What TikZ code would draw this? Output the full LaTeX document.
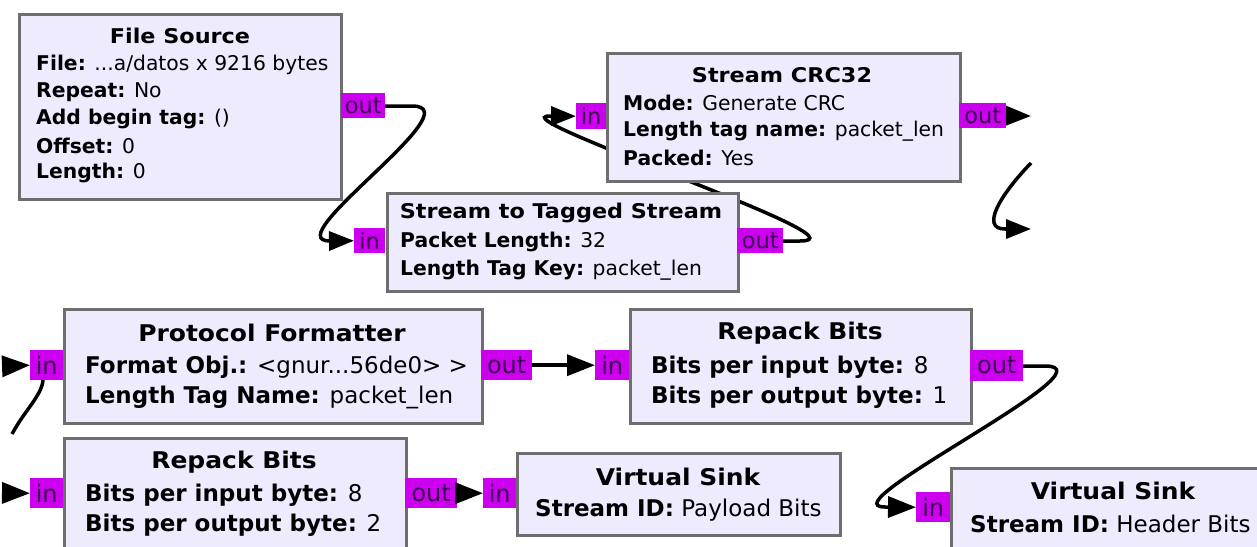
\documentclass[tikz,border=0pt]{standalone}
\usepackage{fontspec}
\setmainfont{DejaVu Sans}
\usetikzlibrary{arrows.meta}
\definecolor{blockfill}{HTML}{EEEBFF}
\definecolor{blockline}{HTML}{6E6E6E}
\definecolor{portfill}{HTML}{CC00EE}
\definecolor{porttext}{HTML}{3A0050}
\newcommand\kv[2]{\textbf{#1} #2}
\newcommand\wtop[1]{\scalebox{1.1}[1]{#1}}
\newcommand\wbot[1]{\scalebox{1.085}[1]{#1}}
\tikzset{
  blockbox/.style={draw=blockline, fill=blockfill, line width=3pt, anchor=north west, inner sep=0pt},
  porttop/.style={fill=portfill, inner sep=0pt, anchor=north west, text=porttext, font=\fontsize{22.5}{22.5}\selectfont},
  portbot/.style={fill=portfill, inner sep=0pt, anchor=north west, text=porttext, font=\fontsize{24}{24}\selectfont},
  titletop/.style={font=\fontsize{20.3}{20.3}\selectfont\bfseries, inner sep=0pt},
  titlebot/.style={font=\fontsize{23}{23}\selectfont\bfseries, inner sep=0pt},
  linetop/.style={font=\fontsize{20.3}{20.3}\selectfont, inner sep=0pt, anchor=west},
  linebot/.style={font=\fontsize{23}{23}\selectfont, inner sep=0pt, anchor=west},
  conn/.style={line width=3.5pt, -{Triangle[length=25pt,width=19pt]}},
  connb/.style={line width=3.5pt, -{Triangle[length=28pt,width=21pt]}},
  plain/.style={line width=3.5pt},
}
\begin{document}
\begin{tikzpicture}[x=1pt,y=-1pt]
\useasboundingbox (0,0) rectangle (1257,546);
\clip (0,0) rectangle (1257,546);
\fill[white] (0,0) rectangle (1257,546);

% coordinates for free ends
\coordinate (crcend) at (1031,116);
\coordinate (rtstart) at (1031,163);
\coordinate (rtend) at (1031,229);
\coordinate (pfinL) at (10,366);
\coordinate (pfinB) at (12,434);
\coordinate (rb2inL) at (10,493);

% ---------- connector curves (drawn first, blocks cover them) ----------
\draw[plain] (385,106) -- (412,106) .. controls (475,106) and (275,241) .. (330,241);
\draw[plain] (783,241) -- (800,241) .. controls (875,241) and (495,116) .. (550,116);
\draw[plain] (1023,366) -- (1045,366) .. controls (1118,366) and (825,507) .. (885,507);
\draw[plain] (rtstart) .. controls (1000,195) and (980,229) .. (1005,229);
\draw[plain] (pfinB) .. controls (25,410) and (42,395) .. (43,380);

% ---------- File Source ----------
\node[blockbox, minimum width=322pt, minimum height=185pt] (fs) at (18,13) {};
\node[titletop] (fst) at (180,36) {\wtop{File Source}};
\node[linetop] (fs1) at (36,65) {\kv{File:}{...a/datos x 9216 bytes}};
\node[linetop] (fs2) at (36,92) {\kv{Repeat:}{No}};
\node[linetop] (fs3) at (36,119) {\kv{Add begin tag:}{()}};
\node[linetop] (fs4) at (36,146) {\kv{Offset:}{0}};
\node[linetop] (fs5) at (36,173) {\kv{Length:}{0}};
\node[porttop, minimum width=44pt, minimum height=25pt] (fsout) at (341,93) {out};

% ---------- Stream to Tagged Stream ----------
\node[blockbox, minimum width=351pt, minimum height=98pt] (sts) at (386,192) {};
\node[titletop] (stst) at (561,213) {\wtop{Stream to Tagged Stream}};
\node[linetop] (sts1) at (400,242) {\kv{Packet Length:}{32}};
\node[linetop] (sts2) at (400,270) {\kv{Length Tag Key:}{packet\_len}};
\node[porttop, minimum width=31pt, minimum height=25pt] (stsin) at (354,228) {in};
\node[porttop, minimum width=46pt, minimum height=25pt] (stsout) at (737,228) {out};

% ---------- Stream CRC32 ----------
\node[blockbox, minimum width=353pt, minimum height=128pt] (crc) at (606,52) {};
\node[titletop] (crct) at (782,75) {\wtop{Stream CRC32}};
\node[linetop] (crc1) at (623,103) {\kv{Mode:}{Generate CRC}};
\node[linetop] (crc2) at (623,131) {\kv{Length tag name:}{packet\_len}};
\node[linetop] (crc3) at (623,158) {\kv{Packed:}{Yes}};
\node[porttop, minimum width=30pt, minimum height=26pt] (crcin) at (576,103) {in};
\node[porttop, minimum width=47pt, minimum height=25pt] (crcout) at (959,103) {out};

% ---------- Protocol Formatter ----------
\node[blockbox, minimum width=418pt, minimum height=114pt] (pf) at (63,308) {};
\node[titlebot] (pft) at (272,333) {\wbot{Protocol Formatter}};
\node[linebot] (pf1) at (85,367) {\kv{Format Obj.:}{<gnur...56de0> >}};
\node[linebot] (pf2) at (85,397) {\kv{Length Tag Name:}{packet\_len}};
\node[portbot, minimum width=33pt, minimum height=30pt] (pfin) at (30,350) {in};
\node[portbot, minimum width=51pt, minimum height=30pt] (pfout) at (481,350) {out};

% ---------- Repack Bits 1 ----------
\node[blockbox, minimum width=341pt, minimum height=114pt] (rb1) at (629,308) {};
\node[titlebot] (rb1t) at (800,333) {\wbot{Repack Bits}};
\node[linebot] (rb11) at (651,367) {\kv{Bits per input byte:}{8}};
\node[linebot] (rb12) at (651,397) {\kv{Bits per output byte:}{1}};
\node[portbot, minimum width=34pt, minimum height=30pt] (rb1in) at (595,350) {in};
\node[portbot, minimum width=53pt, minimum height=31pt] (rb1out) at (970,350) {out};

% ---------- Repack Bits 2 ----------
\node[blockbox, minimum width=342pt, minimum height=123pt] (rb2) at (63,437) {};
\node[titlebot] (rb2t) at (234,462) {\wbot{Repack Bits}};
\node[linebot] (rb21) at (85,495) {\kv{Bits per input byte:}{8}};
\node[linebot] (rb22) at (85,525) {\kv{Bits per output byte:}{2}};
\node[portbot, minimum width=33pt, minimum height=30pt] (rb2in) at (30,478) {in};
\node[portbot, minimum width=52pt, minimum height=30pt] (rb2out) at (405,478) {out};

% ---------- Virtual Sink 1 ----------
\node[blockbox, minimum width=323pt, minimum height=82pt] (vs1) at (516,452) {};
\node[titlebot] (vs1t) at (678,477) {\wbot{Virtual Sink}};
\node[linebot] (vs11) at (535,510) {\kv{Stream ID:}{Payload Bits}};
\node[portbot, minimum width=33pt, minimum height=30pt] (vs1in) at (483,478) {in};

% ---------- Virtual Sink 2 ----------
\node[blockbox, minimum width=330pt, minimum height=100pt] (vs2) at (950,467) {};
\node[titlebot] (vs2t) at (1113,491) {\wbot{Virtual Sink}};
\node[linebot] (vs21) at (970,524) {\kv{Stream ID:}{Header Bits}};
\node[portbot, minimum width=34pt, minimum height=30pt] (vs2in) at (916,492) {in};

% ---------- arrow ends ----------
\draw[conn] (330,241) -- (stsin.west);
\draw[conn] (550,116) -- (crcin.west);
\draw[conn] (crcout.east) -- (crcend);
\draw[conn] (1005,229) -- (rtend);
\draw[connb] (pfinL) -- (pfin.west);
\draw[connb] (pfout.east) -- (rb1in.west);
\draw[connb] (rb2inL) -- (rb2in.west);
\draw[connb] (rb2out.east) -- (vs1in.west);
\draw[connb] (885,507) -- (vs2in.west);
\end{tikzpicture}
\end{document}
